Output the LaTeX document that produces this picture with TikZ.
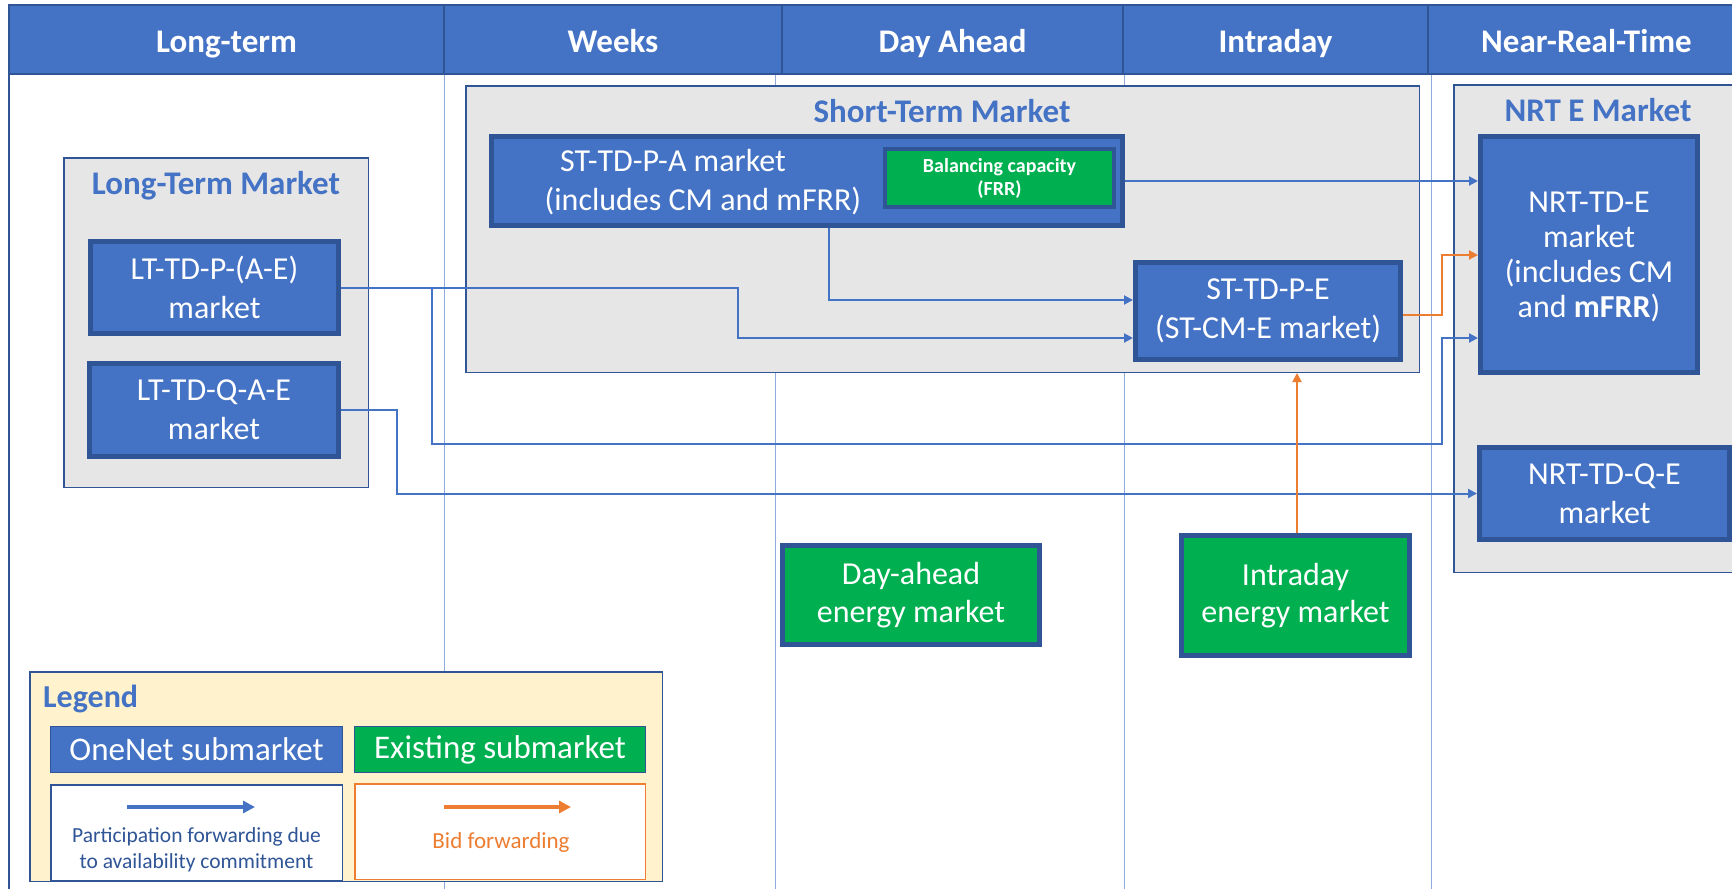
\documentclass[tikz,border=0pt]{standalone}
\usepackage{fontspec}
\setmainfont{Carlito}
\usetikzlibrary{arrows.meta}

\definecolor{hdrblue}{HTML}{4472C4}
\definecolor{edgeblue}{HTML}{2F5597}
\definecolor{gridblue}{HTML}{8FAADC}
\definecolor{panelgray}{HTML}{E7E6E6}
\definecolor{mktgreen}{HTML}{00B050}
\definecolor{bidorange}{HTML}{ED7D31}
\definecolor{legendfill}{HTML}{FFF2CC}

\tikzset{
  hdrcell/.style={draw=edgeblue, line width=1.5pt, fill=hdrblue, text=white,
    font=\fontsize{33}{39}\bfseries\selectfont, inner sep=0pt,
    minimum height=69pt, text height=26pt, text depth=1pt},
  panel/.style={draw=edgeblue, line width=1.5pt, fill=panelgray, inner sep=0pt},
  paneltitle/.style={text=hdrblue, font=\fontsize{33}{39}\bfseries\selectfont, inner sep=0pt},
  submkt/.style={draw=edgeblue, line width=5pt, fill=hdrblue, text=white,
    align=center, inner sep=0pt, font=\fontsize{32}{39}\selectfont},
  oldmkt/.style={submkt, fill=mktgreen},
  flow/.style={draw=hdrblue, line width=2pt, -{Triangle[length=9pt,width=9pt]}},
  bid/.style={flow, draw=bidorange},
  gridline/.style={draw=gridblue, line width=1pt},
  legendkey/.style={line width=1pt, draw=edgeblue, text=white, inner sep=0pt,
    font=\fontsize{33}{39}\selectfont},
  legendnote/.style={line width=1.5pt, fill=white, inner sep=0pt},
}

\begin{document}
\begin{tikzpicture}[x=1pt,y=-1pt]
\useasboundingbox (0,0) rectangle (1732,889);
\clip (0,0) rectangle (1732,889);
\fill[white] (0,0) rectangle (1732,889);

% column guides and left frame
\foreach \gx in {444,775,1124,1431} \draw[gridline] (\gx,74) -- (\gx,889);
\draw[edgeblue, line width=2pt] (9,74) -- (9,889);

% timeline header
\node[hdrcell, minimum width=435pt] (hLong)  at (226.5,39.5) {Long-term};
\node[hdrcell, minimum width=338pt] (hWeeks) at (613,39.5)   {Weeks};
\node[hdrcell, minimum width=341pt] (hDA)    at (952.5,39.5) {Day Ahead};
\node[hdrcell, minimum width=305pt] (hID)    at (1275.5,39.5){Intraday};
\node[hdrcell, minimum width=317pt] (hNRT)   at (1586.5,39.5){Near-Real-Time};

% market panels
\node[panel, minimum width=304.5pt, minimum height=329.5pt] (ltm) at (216,322.5) {};
\node[paneltitle, anchor=base] (ltmTitle) at (216,194) {Long-Term Market};

\node[panel, minimum width=953.5pt, minimum height=286.5pt] (stm) at (942.5,229) {};
\node[paneltitle, anchor=base] (stmTitle) at (942,122) {Short-Term Market};

\node[panel, minimum width=305.5pt, minimum height=487.5pt] (nrt) at (1606.5,328.5) {};
\node[paneltitle, anchor=base] (nrtTitle) at (1598,121) {NRT E Market};

% long-term submarkets
\node[submkt, minimum width=248pt, minimum height=92pt] (ltp) at (214.5,287.5) {LT-TD-P-(A-E)\\market};
\node[submkt, minimum width=249pt, minimum height=93pt] (ltq) at (214,410) {LT-TD-Q-A-E\\market};

% short-term submarkets
\node[submkt, minimum width=631pt, minimum height=89pt] (stpa) at (807,181) {};
\node[align=center, text=white, inner sep=0pt, font=\fontsize{32}{39}\selectfont] (stpaText) at (703,182)
  {ST-TD-P-A market\kern60pt\\(includes CM and mFRR)};
\node[oldmkt, line width=4pt, minimum width=229pt, minimum height=58pt,
  font=\fontsize{20}{23}\bfseries\selectfont] (bal) at (999.5,178) {Balancing capacity\\(FRR)};
\node[submkt, minimum width=265pt, minimum height=97pt] (stpe) at (1268,311) {ST-TD-P-E\\(ST-CM-E market)};

% near-real-time submarkets
\node[submkt, minimum width=217pt, minimum height=236pt, text depth=0.4pt,
  font=\fontsize{32}{35}\selectfont] (nrte) at (1589,254.5)
  {NRT-TD-E\\market\\(includes CM\\and \textbf{mFRR})};
\node[submkt, minimum width=250pt, minimum height=92pt] (nrtq) at (1604.5,493.5) {NRT-TD-Q-E\\market};

% existing energy markets
\node[oldmkt, minimum width=257pt, minimum height=99pt, font=\fontsize{32}{38}\selectfont] (dam) at (911,595) {Day-ahead\\energy market};
\node[oldmkt, minimum width=228pt, minimum height=120pt, font=\fontsize{32}{37}\selectfont] (idm) at (1295.5,595.5) {Intraday\\energy market};

% participation forwarding
\coordinate (split) at (432,287.5);
\draw[flow] (ltp.east) -| (738,338) -- (stpe.west |- 0,338);
\draw[flow] (split) |- (1442,444) |- (nrte.west |- 0,338);
\draw[flow] (stpa.south -| 829,0) |- (stpe.west |- 0,300);
\draw[flow] (stpa.east) -- (nrte.west |- stpa.east);
\draw[flow] (ltq.east) -| (397,493.5) -- (nrtq.west);

% bid forwarding
\draw[bid] (stpe.east |- 0,315) -| (1442,255) -- (nrte.west |- 0,255);
\draw[bid] (idm.north -| 1297,0) -- (stm.south -| 1297,0);

% legend
\node[draw=edgeblue, line width=1.5pt, fill=legendfill, minimum width=632.5pt, minimum height=209.5pt] (legend) at (346,776.5) {};
\node[text=hdrblue, font=\fontsize{32}{38}\bfseries\selectfont, inner sep=0pt, anchor=base west] (legendTitle) at (43,707) {Legend};
\node[legendkey, fill=hdrblue, minimum width=292pt, minimum height=46pt] (lgOne) at (196.5,749.5) {OneNet submarket};
\node[legendkey, fill=mktgreen, minimum width=291pt, minimum height=46pt] (lgOld) at (500,749.5) {Existing submarket};
\node[legendnote, draw=edgeblue, minimum width=291.5pt, minimum height=95.5pt] (lgFlow) at (196.5,832.5) {};
\node[legendnote, draw=bidorange, minimum width=290.5pt, minimum height=95.5pt] (lgBid) at (500,831.5) {};
\coordinate (lgFlowA) at (127,807);
\coordinate (lgFlowB) at (255,807);
\coordinate (lgBidA) at (444,807);
\coordinate (lgBidB) at (571,807);
\draw[flow, line width=4pt, -{Triangle[length=12pt,width=12pt]}] (lgFlowA) -- (lgFlowB);
\draw[bid, line width=4pt, -{Triangle[length=12pt,width=12pt]}] (lgBidA) -- (lgBidB);
\node[text=edgeblue, align=center, inner sep=0pt, font=\fontsize{21.5}{26}\selectfont] (lgFlowText) at (196.5,850)
  {Participation forwarding due\\to availability commitment};
\node[text=bidorange, inner sep=0pt, font=\fontsize{23}{27}\selectfont] (lgBidText) at (501,842) {Bid forwarding};
\end{tikzpicture}
\end{document}
